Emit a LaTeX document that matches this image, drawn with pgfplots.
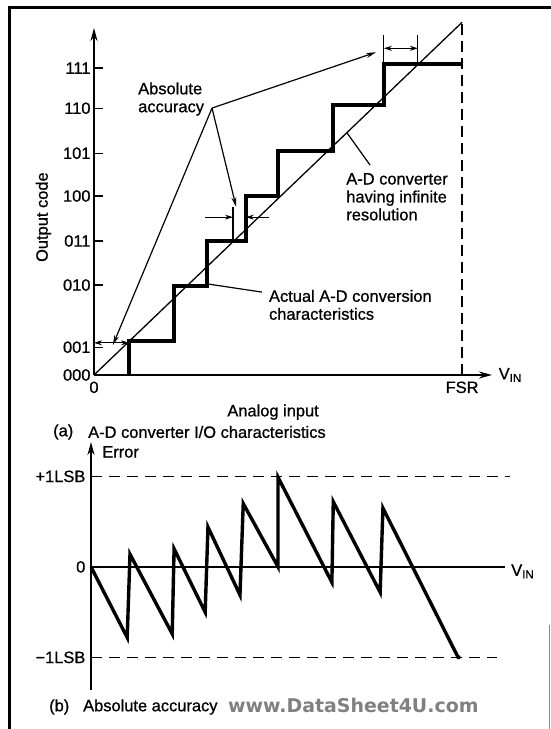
\documentclass[border=0pt]{standalone}
\usepackage{fontspec}
\setmainfont{Liberation Sans}[BoldFont=Liberation Sans, BoldFeatures={FakeBold=0.8}]
\newfontfamily\wmfont{DejaVu Sans}
\usepackage{pgfplots}
\pgfplotsset{compat=1.18}
\usetikzlibrary{arrows.meta}
\newcommand\lab{\bfseries\fontsize{16.5}{18}\selectfont}
\begin{document}
\begin{tikzpicture}
\useasboundingbox (0,0) rectangle (551bp,729bp);
% frame
\draw[line width=3bp] (9bp,0bp) -- (9bp,721bp) -- (551bp,721bp);
\draw[black!45, line width=1bp] (549.5bp,0bp) -- (549.5bp,104bp);

% (a) I/O characteristics
\begin{axis}[
    at={(94bp,354bp)}, anchor=south west,
    scale only axis, width=398bp, height=347bp,
    xmin=0, xmax=8.65, ymin=0, ymax=7.87,
    axis lines=left,
    axis line style={line width=1.9bp, -{Stealth[length=13bp,width=7bp]}},
    clip=false,
    xtick={0,8}, xticklabels={0,FSR},
    x tick style={draw=none},
    xticklabel style={yshift=-3bp},
    ytick={0,0.63,2.04,3.04,4.06,5.03,6.05,6.96},
    yticklabels={000,001,010,011,100,101,110,111},
    y tick style={line width=1.3bp, black},
    tick align=inside, major tick length=9bp,
    tick label style={font=\lab},
    label style={font=\lab},
    xlabel={Analog input},
    xlabel style={at={(axis description cs:0.45,-0.107)}, anchor=center},
    ylabel={Output code},
    ylabel style={at={(axis description cs:-0.127,0.455)}, anchor=center},
]
% ideal converter
\addplot[line width=1.3bp] coordinates {(0,0) (8,8)};
% full scale
\addplot[line width=1.7bp, dash pattern=on 11bp off 6bp] coordinates {(8,0) (8,8)};
% actual staircase
\addplot[line width=3.8bp, line join=miter] coordinates {
    (0.76,0) (0.76,0.77) (1.74,0.77) (1.74,2.02) (2.46,2.02) (2.46,3.04)
    (3.30,3.04) (3.30,4.06) (4.00,4.06) (4.00,5.08) (5.20,5.08) (5.20,6.12)
    (6.30,6.12) (6.30,7.05) (8.00,7.05)
};
% annotations
\node[font=\lab, align=left, anchor=west, inner sep=0pt] at (0.957,6.26) {Absolute\\accuracy};
\draw[line width=1.2bp, -{Stealth[length=10bp,width=5bp]}] (2.565,6.054) -- (0.41,0.68);
\draw[line width=1.2bp, -{Stealth[length=10bp,width=5bp]}] (2.565,6.054) -- (3.09,3.81);
\draw[line width=1.2bp, -{Stealth[length=10bp,width=5bp]}] (2.565,6.054) -- (6.13,7.32);
\draw[line width=1.1bp, {Stealth[length=8bp,width=5bp]}-{Stealth[length=8bp,width=5bp]}] (0,0.73) -- (0.76,0.73);
\draw[line width=1.1bp] (3.02,3.04) -- (3.02,3.81);
\draw[line width=1.1bp, -{Stealth[length=8bp,width=5bp]}] (2.41,3.58) -- (3.02,3.58);
\draw[line width=1.1bp, -{Stealth[length=8bp,width=5bp]}] (3.80,3.58) -- (3.30,3.58);
\draw[line width=1.1bp] (6.30,7.05) -- (6.30,7.71);
\draw[line width=1.1bp] (7.04,7.05) -- (7.04,7.71);
\draw[line width=1.1bp, {Stealth[length=8bp,width=5bp]}-{Stealth[length=8bp,width=5bp]}] (6.30,7.41) -- (7.04,7.41);
\draw[line width=1.2bp] (6.0,4.76) -- (5.5,5.49);
\node[font=\lab, align=left, anchor=west, inner sep=0pt] at (5.48,4.04) {A-D converter\\having infinite\\resolution};
\draw[line width=1.2bp] (3.65,1.88) -- (2.5,2.06);
\node[font=\lab, align=left, anchor=west, inner sep=0pt] at (3.80,1.59) {Actual A-D conversion\\characteristics};
\node[font=\lab, anchor=west] at (8.72,0) {V\textsubscript{IN}};
\end{axis}

% (b) absolute accuracy
\begin{axis}[
    at={(91bp,39bp)}, anchor=south west,
    scale only axis, width=414bp, height=248bp,
    xmin=0, xmax=8.92, ymin=-1.36, ymax=1.38,
    axis lines=middle,
    x axis line style={line width=1.3bp, -},
    y axis line style={line width=1.9bp, -{Stealth[length=13bp,width=7bp]}},
    clip=false,
    xtick=\empty,
    ytick={-1,0,1}, yticklabels={−1LSB,0,+1LSB},
    y tick style={draw=none},
    hide obscured y ticks=false,
    tick label style={font=\lab},
]
\addplot[line width=1.5bp, dash pattern=on 11bp off 7bp] coordinates {(0,1) (9.03,1)};
\addplot[line width=1.5bp, dash pattern=on 11bp off 7bp] coordinates {(0,-1) (8.75,-1)};
\addplot[line width=3.4bp, line join=miter] coordinates {
    (0,0) (0.78,-0.78) (0.84,0.14) (1.75,-0.74) (1.79,0.20) (2.46,-0.50)
    (2.52,0.44) (3.21,-0.31) (3.28,0.70) (4.03,0) (4.03,0.99) (5.19,-0.17)
    (5.22,0.72) (6.23,-0.28) (6.29,0.65) (7.91,-1.0) (7.96,-1.0)
};
\node[font=\lab, anchor=west, inner sep=0pt] at (0.24,1.27) {Error};
\node[font=\lab, anchor=west, inner sep=0pt] at (9.05,-0.05) {V\textsubscript{IN}};
\end{axis}

% captions
\node[font=\lab, anchor=west, inner sep=0pt] at (53bp,297bp) {(a)};
\node[font=\lab, anchor=west, inner sep=0pt] at (88bp,297bp) {A-D converter I/O characteristics};
\node[font=\lab, anchor=west, inner sep=0pt] at (49bp,22bp) {(b)};
\node[font=\lab, anchor=west, inner sep=0pt] at (83bp,22bp) {Absolute accuracy};
\node[font=\wmfont\bfseries\fontsize{19}{21}\selectfont, text=black!50, anchor=west, inner sep=0pt] at (228bp,24bp) {www.DataSheet4U.com};
\end{tikzpicture}
\end{document}
